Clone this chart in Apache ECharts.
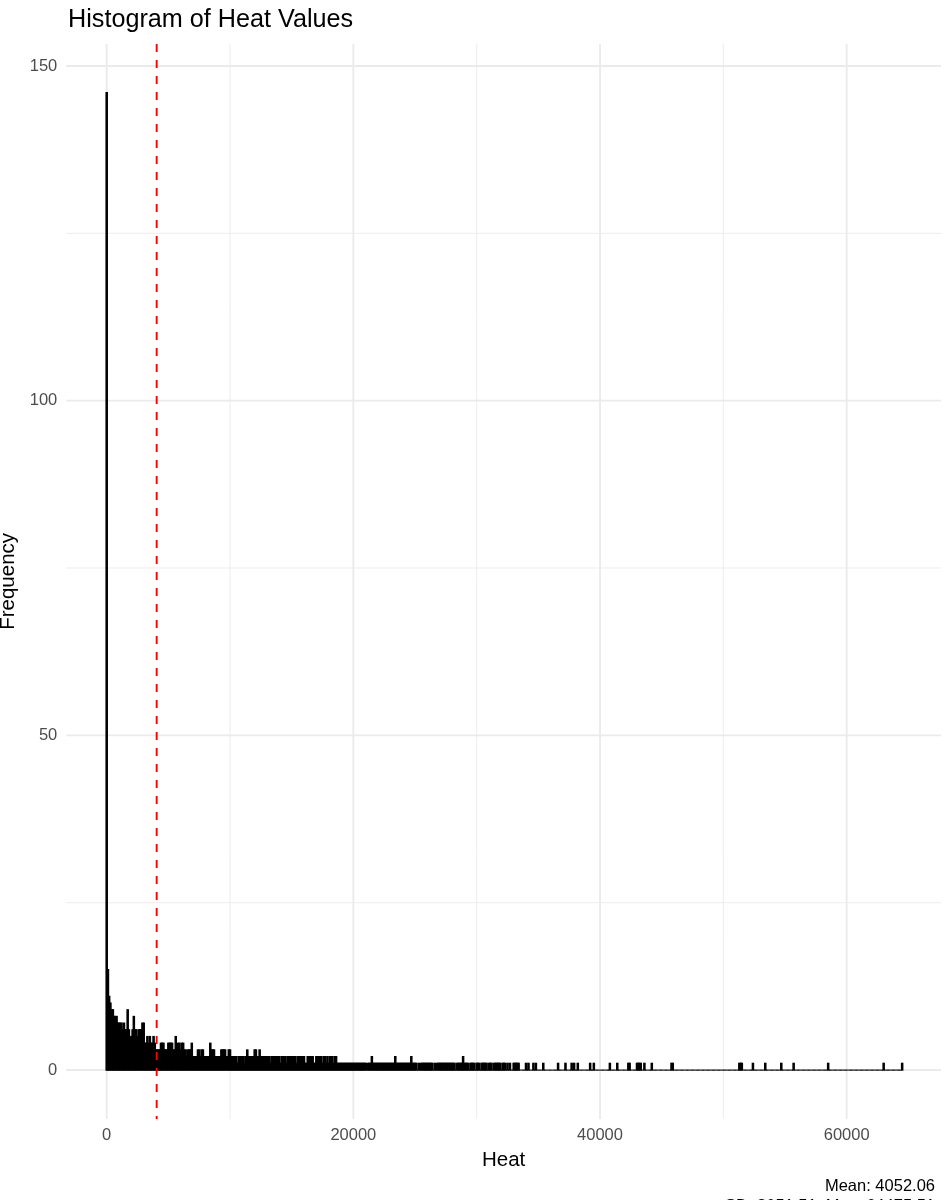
<!DOCTYPE html>
<html><head><meta charset="utf-8">
<script src="https://cdn.jsdelivr.net/npm/echarts@6/dist/echarts.min.js"></script>
<style>html,body{margin:0;padding:0;background:#fff}#c{width:948px;height:1200px}</style>
</head><body><div id="c"></div>
<script>
// ---- data ----
const binWidth = 100;
// counts for bins centred at 0, 100, ..., 4000
const countsA = [146,15,11,10,9,9,8,8,8,7,7,7,7,6,7,6,6,9,6,5,5,6,8,6,6,5,6,6,6,7,7,4,4,5,4,5,4,4,5,4,3];
// bins centred at 4100 ... 12400
const countsB = [3,3,3,4,4,4,3,3,3,4,4,4,4,3,3,5,3,4,4,3,4,4,3,3,2,3,3,3,4,2,2,2,2,3,3,2,3,3,2,2,2,2,2,4,3,3,3,2,2,2,2,2,3,3,3,3,2,2,3,3,2,2,2,2,2,1,2,2,2,2,2,1,2,3,2,2,2,2,2,3,3,2,2,3];
// bins centred at 12500 ... 20400
const countsC = [2,2,2,2,2,2,2,2,1,2,
                 2,2,2,2,2,2,1,2,2,2,
                 2,1,2,2,2,2,2,2,2,1,
                 2,2,2,2,2,2,1,1,2,1,
                 2,2,2,1,1,2,2,2,1,2,
                 1,2,2,1,2,1,2,2,2,1,
                 2,2,
                 1,1,1,1,1,1,1,1,1,1,1,1,1,1,1,1,1,1];
// bins centred at 20500 ... 33400
const countsD = [1,1,1,1,1,1,0,1,1,1,
                 2,1,1,1,1,1,1,1,1,1,
                 1,1,1,1,1,1,1,1,1,2,
                 1,1,1,1,1,1,1,1,1,1,
                 1,1,2,1,1,1,1,0,1,0,
                 1,1,1,1,1,1,1,1,1,1,
                 0,1,0,1,1,1,1,1,1,1,
                 1,1,1,1,1,1,1,1,0,1,
                 1,1,1,1,2,1,1,1,1,0,
                 1,1,1,1,0,1,1,1,0,1,
                 1,1,1,1,0,1,1,1,0,1,
                 1,1,1,1,1,0,1,1,1,0,
                 1,0,1,0,0,1,1,1,1,1];
// beyond 33400 every bin is empty except these single-count bins (centres)
const tailHeats = [34000,34200,34600,34800,35400,36600,37200,37700,37900,38200,39200,39500,
                   40800,41400,42300,42400,43000,43100,43200,43300,43600,44200,45800,45900,
                   51300,51400,51500,52400,53400,54700,55700,58500,63000,64500];
const lastBinHeat = 64500;
const meanHeat = 4052.06;
const captionLines = ['Mean: 4052.06', 'SD: 8051.51, Max: 64475.51'];
const xTicks = [0, 20000, 40000, 60000];
const xMinor = [10000, 30000, 50000];
const yTicks = [0, 50, 100, 150];
const yMinor = [25, 75, 125];

// ---- build histogram bins ----
const dense = countsA.concat(countsB, countsC, countsD);
const bins = [];
const nBins = Math.round(lastBinHeat / binWidth) + 1;
for (let k = 0; k < nBins; k++) {
  const c = k * binWidth;
  let n;
  if (k < dense.length) n = dense[k];
  else n = tailHeats.indexOf(c) >= 0 ? 1 : 0;
  bins.push([c - binWidth / 2, c + binWidth / 2, n]);
}

const FONT = '"Liberation Sans", Arial, Helvetica, sans-serif';
const X_MIN = -3280, X_MAX = 67650, Y_MIN = -7.3, Y_MAX = 153.3;
const GRID = '#EBEBEB';

function vGrid(values, w) {
  return {
    type: 'custom', coordinateSystem: 'cartesian2d', silent: true, z: 1,
    data: values.map(v => [v, 0]),
    renderItem(params, api) {
      const cs = params.coordSys;
      const x = api.coord([api.value(0), 0])[0];
      return {type: 'line', shape: {x1: x, y1: cs.y, x2: x, y2: cs.y + cs.height},
              style: {stroke: GRID, lineWidth: w}};
    }
  };
}
function hGrid(values, w) {
  return {
    type: 'custom', coordinateSystem: 'cartesian2d', silent: true, z: 1,
    data: values.map(v => [0, v]),
    renderItem(params, api) {
      const cs = params.coordSys;
      const y = api.coord([0, api.value(1)])[1];
      return {type: 'line', shape: {x1: cs.x, y1: y, x2: cs.x + cs.width, y2: y},
              style: {stroke: GRID, lineWidth: w}};
    }
  };
}

const chart = echarts.init(document.getElementById('c'), null, {renderer: 'canvas'});
chart.setOption({
  animation: false,
  backgroundColor: '#fff',
  title: {text: 'Histogram of Heat Values', left: 68, top: 8, padding: 0,
          textStyle: {fontSize: 25.2, fontWeight: 'normal', color: '#000', fontFamily: FONT}},
  grid: {left: 66.25, right: 7, top: 43.9, bottom: 81.1, containLabel: false, outerBoundsMode: 'none'},
  xAxis: {
    type: 'value', min: X_MIN, max: X_MAX,
    axisLine: {show: false}, axisTick: {show: false}, splitLine: {show: false},
    axisLabel: {customValues: xTicks, formatter: v => String(v), color: '#4D4D4D', fontSize: 16.5, fontFamily: FONT, margin: 8},
    name: 'Heat', nameLocation: 'middle', nameGap: 31,
    nameTextStyle: {color: '#000', fontSize: 20.5, fontFamily: FONT}
  },
  yAxis: {
    type: 'value', min: Y_MIN, max: Y_MAX,
    axisLine: {show: false}, axisTick: {show: false}, splitLine: {show: false},
    axisLabel: {customValues: yTicks, formatter: v => String(v), color: '#4D4D4D', fontSize: 16.5, fontFamily: FONT, margin: 9},
    name: 'Frequency', nameLocation: 'middle', nameGap: 41, nameRotate: 90,
    nameTextStyle: {color: '#000', fontSize: 20.5, fontFamily: FONT}
  },
  graphic: [
    {type: 'text', right: 13, top: 1178, style: {text: captionLines[0], fill: '#000', font: '16.5px ' + FONT, textAlign: 'right'}},
    {type: 'text', right: 13, top: 1197.8, style: {text: captionLines[1], fill: '#000', font: '16.5px ' + FONT, textAlign: 'right'}}
  ],
  series: [
    vGrid(xMinor, 0.95), hGrid(yMinor, 0.95),
    vGrid(xTicks, 1.9), hGrid(yTicks, 1.9),
    {
      type: 'custom', coordinateSystem: 'cartesian2d', silent: true, z: 3,
      data: bins, encode: {x: [0, 1], y: 2},
      renderItem(params, api) {
        const p0 = api.coord([api.value(0), 0]);
        const p1 = api.coord([api.value(1), api.value(2)]);
        return {type: 'rect', shape: {x: p0[0], y: p1[1], width: p1[0] - p0[0], height: p0[1] - p1[1]},
                style: {fill: '#000', stroke: '#000', lineWidth: 1.3}};
      }
    },
    {
      type: 'custom', coordinateSystem: 'cartesian2d', silent: true, z: 4,
      data: [[meanHeat, 0]],
      renderItem(params, api) {
        const cs = params.coordSys;
        const x = api.coord([api.value(0), 0])[0];
        return {type: 'line', shape: {x1: x, y1: cs.y, x2: x, y2: cs.y + cs.height},
                style: {stroke: '#FF0000', lineWidth: 1.9, lineDash: [8, 8]}};
      }
    }
  ]
});
</script></body></html>
